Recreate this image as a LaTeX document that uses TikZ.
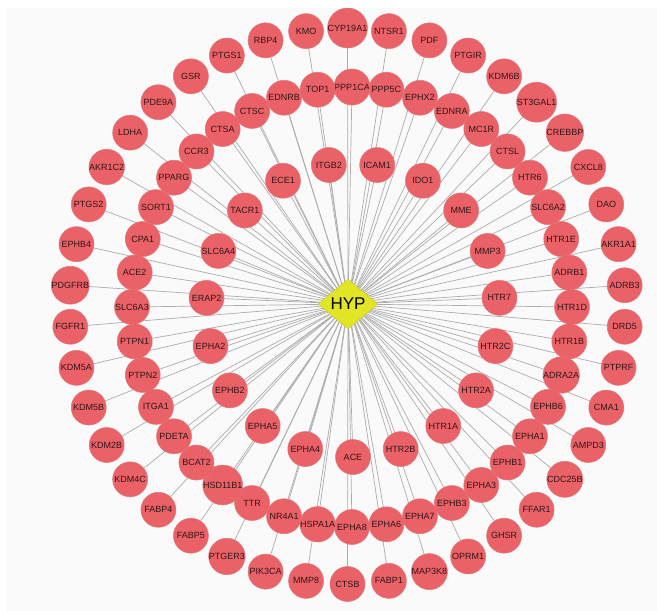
\documentclass[tikz,border=0pt]{standalone}
\usepackage{fontspec}
\setmainfont{Liberation Sans}
\usetikzlibrary{shapes.geometric,backgrounds}
\definecolor{nodefill}{RGB}{234,98,103}
\definecolor{nodeborder}{RGB}{222,118,122}
\definecolor{labelcol}{RGB}{48,22,24}
\definecolor{hypfill}{RGB}{226,228,38}
\definecolor{hypborder}{RGB}{200,200,60}
\definecolor{edgegray}{RGB}{172,172,172}
\definecolor{bgpaper}{RGB}{250,250,250}
\begin{document}
\begin{tikzpicture}[x=1pt,y=-1pt,
  tnode/.style={circle, fill=nodefill, draw=nodeborder, line width=0.5pt, minimum size=35pt, inner sep=0pt, text=labelcol, font=\fontsize{9}{10}\selectfont},
  hub/.style={diamond, fill=hypfill, draw=hypborder, line width=0.4pt, minimum width=60pt, minimum height=50pt, inner sep=0pt, font=\fontsize{17}{18}\selectfont},
  link/.style={draw=edgegray, line width=0.7pt}]
\useasboundingbox (0,0) rectangle (657,611);
\def\outerlist{CYP19A1,NTSR1,PDF,PTGIR,KDM6B,ST3GAL1,CREBBP,CXCL8,DAO,AKR1A1,ADRB3,DRD5,PTPRF,CMA1,AMPD3,CDC25B,FFAR1,GHSR,OPRM1,MAP3K8,FABP1,CTSB,MMP8,PIK3CA,PTGER3,FABP5,FABP4,KDM4C,KDM2B,KDM5B,KDM5A,FGFR1,PDGFRB,EPHB4,PTGS2,AKR1C2,LDHA,PDE9A,GSR,PTGS1,RBP4,KMO}
\def\middlelist{PPP1CA,PPP5C,EPHX2,EDNRA,MC1R,CTSL,HTR6,SLC6A2,HTR1E,ADRB1,HTR1D,HTR1B,ADRA2A,EPHB6,EPHA1,EPHB1,EPHA3,EPHB3,EPHA7,EPHA6,EPHA8,HSPA1A,NR4A1,TTR,HSD11B1,BCAT2,PDETA,ITGA1,PTPN2,PTPN1,SLC6A3,ACE2,CPA1,SORT1,PPARG,CCR3,CTSA,CTSC,EDNRB,TOP1}
\def\innerlist{ACE,HTR2B,HTR1A,HTR2A,HTR2C,HTR7,MMP3,MME,IDO1,ICAM1,ITGB2,ECE1,TACR1,SLC6A4,ERAP2,EPHA2,EPHB2,EPHA5,EPHA4}
\node[hub] (HYP) at (348,304) {HYP};
\foreach \n [count=\i from 0] in \outerlist {
  \pgfmathsetmacro\ang{90-\i*360/42}
  \node[tnode] (\n) at ({347.5+278*cos(\ang)},{306-278*sin(\ang)}) {\n};
}
\foreach \n [count=\i from 0] in \middlelist {
  \pgfmathsetmacro\ang{90-\i*9}
  \node[tnode] (\n) at ({352+220*cos(\ang)},{307-220*sin(\ang)}) {\n};
}
\foreach \n [count=\i from 0] in \innerlist {
  \pgfmathsetmacro\ang{-90+\i*360/19}
  \node[tnode] (\n) at ({353+147*cos(\ang)},{310-147*sin(\ang)}) {\n};
}
\begin{pgfonlayer}{background}
  \fill[bgpaper] (7,8) rectangle (657,611);
  \foreach \n in \outerlist {\draw[link] (HYP.center) -- (\n.center);}
  \foreach \n in \middlelist {\draw[link] (HYP.center) -- (\n.center);}
  \foreach \n in \innerlist {\draw[link] (HYP.center) -- (\n.center);}
\end{pgfonlayer}
\end{tikzpicture}
\end{document}
